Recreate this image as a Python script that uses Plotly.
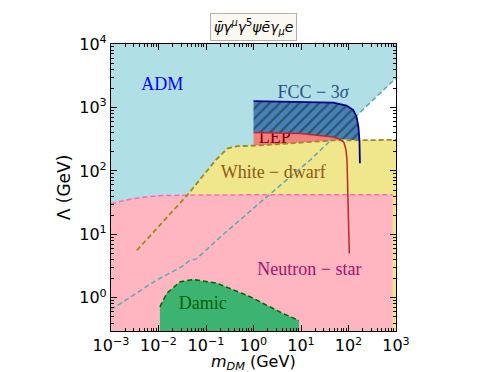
import plotly.graph_objects as go

# ADM boundary (teal dashed line)
adm_m = [0.001, 0.0091, 0.031, 0.046, 0.063, 0.2, 1.9, 15.5, 1000]
adm_lam = [0.65, 1.9, 3.1, 3.9, 4.1, 9.1, 39, 148, 2900]

# Neutron star bound (pink)
ns_m = [0.001, 0.003, 0.0091, 0.04, 1, 850]
ns_lam = [30.6, 36.7, 40.6, 41.5, 42, 42]

# White dwarf bound (yellow)
wd_m = [0.0035, 0.041, 0.16, 0.28, 0.45, 1.17, 48, 1000]
wd_lam = [5.6, 42, 148, 224, 245, 251, 302, 309]

# LEP bound (red)
lep_m = [1, 9.5, 48, 66, 80, 88, 93, 97, 104]
lep_lam = [403, 389, 343, 316, 280, 220, 148, 50, 5]

# FCC 3 sigma reach (blue)
fcc_m = [1, 48, 91, 126, 148, 162, 170, 174]
fcc_lam = [1260, 1195, 1070, 910, 708, 490, 302, 132]

# Damic (green)
damic_m = [0.0107, 0.0148, 0.028, 0.054, 0.17, 0.85, 4.3, 9.1]
damic_lam = [0.72, 1.17, 1.78, 1.95, 1.70, 1.04, 0.56, 0.44]

m_lim = [1e-3, 1e3]
lam_lim = [0.3, 1e4]

x_ticks = [-3, -2, -1, 0, 1, 2, 3]
y_ticks = [-1, 0, 1, 2, 3, 4]

serif = "Liberation Serif"
fig = go.Figure()

# ADM region: above the teal line
fig.add_trace(go.Scatter(
    x=adm_m + [m_lim[1], m_lim[0]], y=adm_lam + [lam_lim[1], lam_lim[1]],
    fill="toself", fillcolor="#B0E0E6", mode="none"))

# LEP region (lower part gets covered by white dwarf)
lep_top = [(m, l) for m, l in zip(lep_m, lep_lam) if l >= 148]
fig.add_trace(go.Scatter(
    x=[p[0] for p in lep_top] + [lep_m[0]],
    y=[p[1] for p in lep_top] + [lep_top[-1][1]],
    fill="toself", fillcolor="#F08080", mode="none"))
fig.add_trace(go.Scatter(x=[2.8], y=[325], mode="text", text=["LEP"],
                         textfont=dict(family=serif, size=18, color="#800000")))

# White dwarf
fig.add_trace(go.Scatter(
    x=wd_m + [wd_m[-1], wd_m[0]], y=wd_lam + [lam_lim[0], lam_lim[0]],
    fill="toself", fillcolor="#F0E68C", mode="none"))

# Neutron star
fig.add_trace(go.Scatter(
    x=ns_m + [ns_m[-1], ns_m[0]], y=ns_lam + [lam_lim[0], lam_lim[0]],
    fill="toself", fillcolor="#FFB6C1", mode="none"))
fig.add_trace(go.Scatter(x=ns_m, y=ns_lam, mode="lines",
                         line=dict(color="#FF69B4", width=1.5, dash="5px,3px")))

# Damic
fig.add_trace(go.Scatter(
    x=damic_m + [damic_m[-1], damic_m[0]], y=damic_lam + [lam_lim[0], lam_lim[0]],
    fill="toself", fillcolor="#3CB371", mode="none"))
fig.add_trace(go.Scatter(x=damic_m, y=damic_lam, mode="lines",
                         line=dict(color="#006400", width=1.5, dash="5px,3px")))

# ADM teal dashed line
fig.add_trace(go.Scatter(x=adm_m, y=adm_lam, mode="lines",
                         line=dict(color="#5FA8B0", width=1.5, dash="5px,3px")))

# FCC hatched region, bounded below by LEP curve
wd_top = wd_lam[-2]
fcc_pts = [(m, l) for m, l in zip(fcc_m, fcc_lam) if l >= wd_top]
lep_pts = [(m, l) for m, l in zip(lep_m, lep_lam) if l >= wd_top][::-1]
poly = fcc_pts + lep_pts
fig.add_trace(go.Scatter(
    x=[p[0] for p in poly], y=[p[1] for p in poly],
    fill="toself", fillcolor="#4682B4", mode="none",
    fillpattern=dict(shape="/", bgcolor="#4682B4", fgcolor="#10202c", size=7, solidity=0.3)))

# boundary lines
fig.add_trace(go.Scatter(x=wd_m, y=wd_lam, mode="lines",
                         line=dict(color="#9C8A1C", width=1.8, dash="5px,3px")))
fig.add_trace(go.Scatter(x=lep_m, y=lep_lam, mode="lines",
                         line=dict(color="#C0282A", width=1.5)))
fig.add_trace(go.Scatter(x=fcc_m, y=fcc_lam, mode="lines",
                         line=dict(color="#00008B", width=1.8)))

# labels
labels = [
    (0.012, 2250, "ADM", "blue"),
    (18, 1650, "FCC − 3<i>σ</i>", "#2B4F8A"),
    (2.6, 92, "White − dwarf", "#8B5A16"),
    (15, 2.7, "Neutron − star", "#A3136E"),
    (0.085, 0.78, "Damic", "#006400"),
]
for x, y, t, c in labels:
    fig.add_trace(go.Scatter(x=[x], y=[y], mode="text", text=[t],
                             textfont=dict(family=serif, size=18, color=c)))

fig.add_annotation(
    x=0.5, y=1, xref="paper", yref="paper", yanchor="bottom", yshift=3,
    text="<i>ψ̄γ<sup>μ</sup>γ</i><sup>5</sup><i>ψēγ<sub>μ</sub>e</i>",
    showarrow=False, font=dict(family="DejaVu Sans", size=14, color="black"),
    bgcolor="#FBF8F2", bordercolor="#B0B0B0", borderwidth=1, borderpad=3)

# x axis title as annotation so it sits below the tick labels
fig.add_annotation(
    x=0.5, y=0, xref="paper", yref="paper", yanchor="middle", yshift=-31,
    text="<i>m</i><sub><i>DM</i></sub> (GeV)", showarrow=False,
    font=dict(family="DejaVu Sans", size=16, color="black"))


def power_labels(exps):
    return [f"10<sup>{str(e).replace('-', '−')}</sup>" for e in exps]


def minor_vals(exps):
    return [k * 10.0 ** e for e in exps for k in range(2, 10)]


axis_common = dict(
    type="log", showgrid=False, zeroline=False, showline=True, linecolor="black",
    linewidth=1.2, mirror="allticks", ticks="inside", ticklen=6, tickcolor="black",
    tickangle=0, automargin=False,
    tickfont=dict(family="DejaVu Sans", size=16, color="black"),
)
fig.update_xaxes(
    range=[-3, 3], tickvals=[10.0 ** e for e in x_ticks], ticktext=power_labels(x_ticks),
    minor=dict(ticks="inside", ticklen=3, tickcolor="black", showgrid=False,
               tickvals=minor_vals(x_ticks)),
    **axis_common)
fig.update_yaxes(
    range=[-0.523, 4], tickvals=[10.0 ** e for e in y_ticks], ticktext=power_labels(y_ticks),
    minor=dict(ticks="inside", ticklen=3, tickcolor="black", showgrid=False,
               tickvals=minor_vals(y_ticks)),
    title=dict(text="Λ (GeV)", standoff=4,
               font=dict(family="DejaVu Sans", size=17, color="black")),
    **axis_common)

fig.update_layout(
    width=488, height=364, showlegend=False,
    margin=dict(l=103, r=100, t=36, b=41),
    plot_bgcolor="white", paper_bgcolor="white",
)

fig.write_html("out.html")
